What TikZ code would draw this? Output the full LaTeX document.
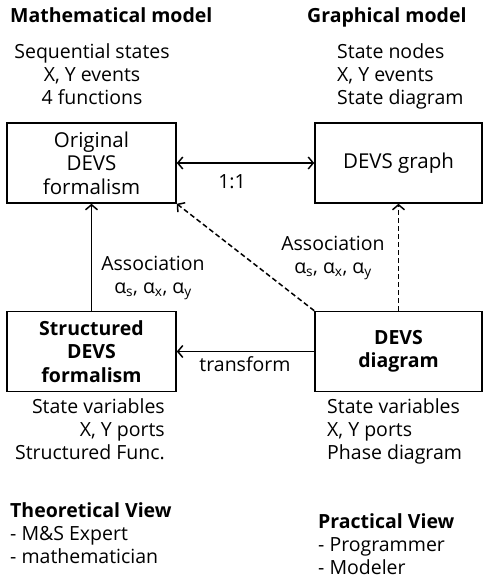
\documentclass[tikz,border=0pt]{standalone}
\usepackage{fontspec}
\setmainfont{Open Sans}
\usetikzlibrary{arrows.meta}

\tikzset{
  >={Straight Barb[length=5pt,width=12pt]},
  txt/.style={inner sep=0pt, font=\fontsize{19.5}{23}\selectfont},
  hdr/.style={inner sep=0pt, font=\bfseries\fontsize{19.5}{23}\selectfont},
  box/.style={draw, line width=1.6pt, minimum width=169pt, minimum height=80pt,
    inner sep=0pt, align=center, font=\fontsize{20.5}{23.5}\selectfont},
  boldbox/.style={box, font=\bfseries\fontsize{19.5}{23.5}\selectfont},
  link/.style={line width=1.5pt, ->},
  assoc/.style={link, dash pattern=on 5pt off 3pt},
}

\begin{document}
\begin{tikzpicture}[x=1pt,y=-1pt]
 \useasboundingbox (0,0) rectangle (483,583);

 % headers
 \node[hdr, anchor=base west] (mathhdr) at (10,23) {Mathematical model};
 \node[hdr, anchor=base west] (graphhdr) at (307,23) {Graphical model};
 \node[txt, align=center, anchor=base] (mathinfo) at (92,105) {Sequential states\\X, Y events\\4 functions};
 \node[txt, align=left, anchor=base west] (graphinfo) at (337,105) {State nodes\\X, Y events\\State diagram};

 % boxes
 \node[box] (orig) at (91.5,163) {Original\\DEVS\\formalism};
 \node[box, minimum width=167pt] (graph) at (398.5,163) {DEVS graph};
 \node[boldbox] (sdevs) at (91.5,351.5) {Structured\\DEVS\\formalism};
 \node[boldbox, minimum width=167pt] (diag) at (398.5,351.5) {DEVS\\diagram};

 % connectors
 \draw[link, <->] (orig) -- (graph);
 \draw[link] (sdevs) -- (orig);
 \draw[link] (diag) -- (sdevs);
 \draw[assoc] (diag.north west) -- (orig.south east);
 \draw[assoc] (diag) -- (graph);

 \node[txt, anchor=base] (onetoone) at (232,188) {1:1};
 \node[txt, align=center, anchor=base] (assocl) at (153,293) {Association\\α\textsubscript{s}, α\textsubscript{x}, α\textsubscript{y}};
 \node[txt, align=center, anchor=base] (assocr) at (333,273) {Association\\α\textsubscript{s}, α\textsubscript{x}, α\textsubscript{y}};
 \node[txt, anchor=base] (trans) at (245,371) {transform};

 % details below
 \node[txt, align=right, anchor=base east] (sinfo) at (165,459) {State variables\\X, Y ports\\Structured Func.};
 \node[txt, align=left, anchor=base west] (dinfo) at (327,459) {State variables\\X, Y ports\\Phase diagram};

 % views
 \node[txt, align=left, anchor=base west] (theory) at (10,563) {\textbf{Theoretical View}\\- M\&S Expert\\- mathematician};
 \node[txt, align=left, anchor=base west] (practice) at (318,574) {\textbf{Practical View}\\- Programmer\\- Modeler};
\end{tikzpicture}
\end{document}
